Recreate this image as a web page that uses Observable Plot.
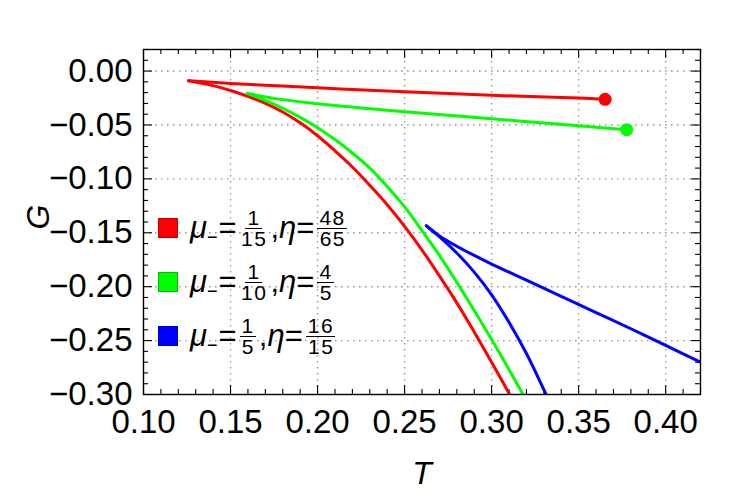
<!DOCTYPE html>
<html><head><meta charset="utf-8">
<script src="https://cdn.jsdelivr.net/npm/d3@7"></script>
<script src="https://cdn.jsdelivr.net/npm/@observablehq/plot@0.6"></script>
<style>
body{margin:0;background:#fff;}
#wrap{position:relative;width:750px;height:490px;font-family:"Liberation Sans",Arial,sans-serif;}
#wrap svg g[aria-label$="tick label"]{font-size:33px;}
#legend{position:absolute;left:158px;top:201px;color:#000;}
.row{display:flex;align-items:center;height:54px;white-space:nowrap;}
.sw{width:20px;height:20px;box-sizing:border-box;border:1px solid rgba(0,0,0,0.25);margin-right:12px;}
.big{font-size:31px;font-style:italic;}
.op{font-size:31px;}
.sub{font-size:18px;position:relative;top:9px;margin-right:1px;}
.frac{display:inline-flex;flex-direction:column;align-items:center;font-size:21px;line-height:18px;letter-spacing:1.5px;margin:0 3px;}
.frac .n{border-bottom:1.5px solid #000;padding:0 1px 1px 2px;}
.frac .d{padding:1px 0 0 1.5px;}
.alab{position:absolute;font-size:32px;font-style:italic;line-height:1;color:#000;}
</style>
</head><body>
<div id="wrap"></div>
<script>
// axis ticks
const xTicks = [0.10, 0.15, 0.20, 0.25, 0.30, 0.35, 0.40];
const yTicks = [-0.30, -0.25, -0.20, -0.15, -0.10, -0.05, 0.00];
const xDomain = [0.10, 0.42];
const yDomain = [-0.30, 0.02];
const xLabel = "T";
const yLabel = "G";

// series: red (mu=1/15, eta=48/65)
const redUpperT = [0.3652, 0.35, 0.30, 0.25, 0.20, 0.15, 0.1259];
const redUpperG = [-0.0262, -0.0250, -0.0225, -0.0193, -0.0155, -0.0115, -0.0090];
const redLowerT = [0.1259, 0.14, 0.15, 0.16, 0.17, 0.18, 0.19, 0.20, 0.21, 0.22, 0.23, 0.24, 0.25, 0.26, 0.27, 0.28, 0.29, 0.30, 0.31, 0.313];
const redLowerG = [-0.0090, -0.0135, -0.0180, -0.0235, -0.0300, -0.0380, -0.0480, -0.0600, -0.0740, -0.0890, -0.1060, -0.1240, -0.1440, -0.1660, -0.1900, -0.2150, -0.2420, -0.2700, -0.2990, -0.3080];

// series: green (mu=1/10, eta=4/5)
const greenUpperT = [0.3776, 0.35, 0.30, 0.25, 0.20, 0.18, 0.1596];
const greenUpperG = [-0.0544, -0.0508, -0.0442, -0.0377, -0.0303, -0.0265, -0.0207];
const greenLowerT = [0.1596, 0.17, 0.18, 0.19, 0.20, 0.21, 0.22, 0.23, 0.24, 0.25, 0.26, 0.27, 0.28, 0.29, 0.30, 0.31, 0.318, 0.320];
const greenLowerG = [-0.0207, -0.0272, -0.0345, -0.0430, -0.0525, -0.0635, -0.0760, -0.0900, -0.1070, -0.1260, -0.1480, -0.1710, -0.1960, -0.2220, -0.2490, -0.2770, -0.3000, -0.3060];

// series: blue (mu=1/5, eta=16/15)
const blueUpperT = [0.422, 0.40, 0.38, 0.36, 0.34, 0.32, 0.30, 0.29, 0.28, 0.27, 0.2625];
const blueUpperG = [-0.2715, -0.2545, -0.2390, -0.2240, -0.2090, -0.1940, -0.1790, -0.1710, -0.1625, -0.1530, -0.1435];
const blueLowerT = [0.2625, 0.27, 0.28, 0.29, 0.30, 0.31, 0.32, 0.33, 0.333];
const blueLowerG = [-0.1435, -0.1535, -0.1688, -0.1865, -0.2075, -0.2330, -0.2620, -0.2955, -0.3060];

// end-point markers
const dotT = [0.3652, 0.3776];
const dotG = [-0.0262, -0.0544];
const dotColor = ["#ff0000", "#00ff00"];

// legend
const legendColors = ["#ff0000", "#00ff00", "#0000ff"];
const legendMu = [["1", "15"], ["1", "10"], ["1", "5"]];
const legendEta = [["48", "65"], ["4", "5"], ["16", "15"]];

// build table
const branches = [
  {c: "#ff0000", T: redUpperT, G: redUpperG}, {c: "#ff0000", T: redLowerT, G: redLowerG},
  {c: "#00ff00", T: greenUpperT, G: greenUpperG}, {c: "#00ff00", T: greenLowerT, G: greenLowerG},
  {c: "#0000ff", T: blueUpperT, G: blueUpperG}, {c: "#0000ff", T: blueLowerT, G: blueLowerG}
];
const lineData = branches.flatMap((b, i) => b.T.map((t, j) => ({T: t, G: b.G[j], k: i, c: b.c})));
const dots = dotT.map((t, i) => ({T: t, G: dotG[i], c: dotColor[i]}));

const W = 750, H = 490, mL = 143, mR = 50, mT = 49, mB = 96;
const pxX = (xDomain[1] - xDomain[0]) / (W - mL - mR);
const pxY = (yDomain[1] - yDomain[0]) / (H - mT - mB);
const r2 = v => Math.round(v * 100) / 100;
const xAll = d3.range(0, 33).map(i => r2(0.10 + i * 0.01));
const yAll = d3.range(0, 33).map(i => r2(-0.30 + i * 0.01));
const isMajor = v => Math.abs(v * 20 - Math.round(v * 20)) < 1e-6;
const tl = v => isMajor(v) ? 9 : 5;
const xGrid = xTicks.filter(v => v > xDomain[0] + 1e-9);
const yGrid = yTicks.filter(v => v > yDomain[0] + 1e-9);
const gridStyle = {stroke: "#9a9a9a", strokeWidth: 1.4, strokeDasharray: "1.6,4.4"};
const font = "'Liberation Sans', Arial, sans-serif";

const chart = Plot.plot({
  width: W, height: H,
  marginLeft: mL, marginRight: mR, marginTop: mT, marginBottom: mB,
  style: {fontFamily: font, fontSize: "33px", color: "#000", background: "#fff", overflow: "visible"},
  x: {domain: xDomain, ticks: xTicks, tickFormat: d3.format(".2f"), tickSize: 0, tickPadding: 15, label: null},
  y: {domain: yDomain, ticks: yTicks, tickFormat: d3.format(".2f"), tickSize: 0, tickPadding: 11, label: null},
  marks: [
    Plot.ruleX(xGrid, {x: d => d, ...gridStyle}),
    Plot.ruleY(yGrid, {y: d => d, ...gridStyle}),
    Plot.ruleX(xAll, {x: d => d, y1: yDomain[0], y2: d => yDomain[0] + tl(d) * pxY, stroke: "#000", strokeWidth: 1.1}),
    Plot.ruleX(xAll, {x: d => d, y1: yDomain[1], y2: d => yDomain[1] - tl(d) * pxY, stroke: "#000", strokeWidth: 1.1}),
    Plot.ruleY(yAll, {y: d => d, x1: xDomain[0], x2: d => xDomain[0] + tl(d) * pxX, stroke: "#000", strokeWidth: 1.1}),
    Plot.ruleY(yAll, {y: d => d, x1: xDomain[1], x2: d => xDomain[1] - tl(d) * pxX, stroke: "#000", strokeWidth: 1.1}),
    Plot.line(lineData, {x: "T", y: "G", z: "k", stroke: "c", strokeWidth: 3, curve: "catmull-rom", clip: true}),
    Plot.dot(dots, {x: "T", y: "G", fill: "c", r: 6.5, stroke: null}),
    Plot.frame({stroke: "#000", strokeWidth: 1.4})
  ]
});
const wrap = document.getElementById("wrap");
wrap.appendChild(chart);

// axis titles
const tLab = document.createElement("span");
tLab.className = "alab";
tLab.textContent = xLabel;
tLab.style.left = "422px"; tLab.style.top = "473px";
tLab.style.transform = "translate(-50%,-50%)";
wrap.appendChild(tLab);
const gLab = document.createElement("span");
gLab.className = "alab";
gLab.textContent = yLabel;
gLab.style.left = "38px"; gLab.style.top = "217px";
gLab.style.transform = "translate(-50%,-50%) rotate(-90deg)";
wrap.appendChild(gLab);

// legend
const leg = document.createElement("div");
leg.id = "legend";
const frac = (a) => `<span class="frac"><span class="n">${a[0]}</span><span class="d">${a[1]}</span></span>`;
leg.innerHTML = legendColors.map((c, i) =>
  `<div class="row"><span class="sw" style="background:${c}"></span>` +
  `<span class="big">μ</span><span class="sub">−</span><span class="op">=</span>${frac(legendMu[i])}` +
  `<span class="op">,</span><span class="big">η</span><span class="op">=</span>${frac(legendEta[i])}</div>`
).join("");
wrap.appendChild(leg);
</script>
</body></html>
